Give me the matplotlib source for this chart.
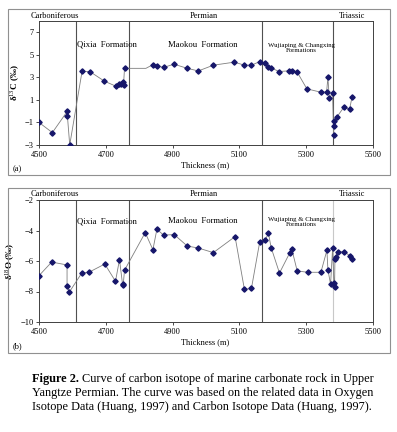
import matplotlib
matplotlib.use("Agg")
import matplotlib.pyplot as plt
from matplotlib.patches import Rectangle

plt.rcParams['font.family'] = ['Liberation Serif', 'DejaVu Serif']
plt.rcParams['mathtext.fontset'] = 'custom'
plt.rcParams['mathtext.rm'] = 'Liberation Serif'

# carbon isotope (a)
c_thick = [4500, 4540, 4585, 4585, 4592, 4629, 4653, 4696, 4730, 4741, 4746, 4750, 4753, 4756,
           4820, 4842, 4853, 4873, 4904, 4944, 4977, 5022, 5085, 5115, 5136, 5161, 5176, 5185,
           5194, 5219, 5249, 5256, 5272, 5302, 5343, 5361, 5365, 5369, 5379, 5382, 5383, 5384,
           5391, 5413, 5430, 5437]
c_d13 = [-1.0, -1.9, 0.0, -0.4, -3.0, 3.55, 3.5, 2.66, 2.22, 2.4, 2.45, 2.55, 2.3, 3.8,
         3.8, 4.14, 4.02, 3.88, 4.17, 3.8, 3.57, 4.08, 4.35, 4.08, 4.08, 4.4, 4.27, 3.9,
         3.85, 3.52, 3.58, 3.6, 3.52, 1.98, 1.69, 1.69, 2.99, 1.13, 1.6, -2.14, -1.32, -0.88,
         -0.55, 0.36, 0.19, 1.22]
c_marked = [True] * len(c_thick)
c_marked[14] = False

# oxygen isotope (b)
o_thick = [4500, 4538, 4584, 4584, 4591, 4628, 4651, 4697, 4729, 4741, 4750, 4752, 4756,
           4818, 4841, 4853, 4873, 4905, 4944, 4977, 5022, 5087, 5115, 5136, 5161, 5177, 5187,
           5195, 5220, 5250, 5257, 5273, 5304, 5344, 5362, 5365, 5373, 5379, 5383, 5385, 5386,
           5388, 5394, 5414, 5430, 5437]
o_d18 = [-6.96, -6.07, -6.26, -7.62, -8.03, -6.79, -6.72, -6.2, -7.33, -5.91, -7.5, -7.6, -6.61,
         -4.14, -5.26, -3.92, -4.3, -4.27, -5.02, -5.15, -5.45, -4.4, -7.86, -7.8, -4.73, -4.62, -4.19,
         -5.12, -6.79, -5.5, -5.23, -6.65, -6.74, -6.74, -5.3, -6.57, -7.53, -5.17, -7.42, -7.68, -5.87,
         -5.74, -5.41, -5.39, -5.65, -5.87]

boundaries = [4611, 4769, 5168, 5380]
periods = ['Carboniferous', 'Permian', 'Triassic']
period_x = [55, 204, 352]
formations = ['Qixia  Formation', 'Maokou  Formation']
form_x = [4615, 4886]
wc_label = 'Wujiaping & Changxing\nFormations'

W, H = 397, 432
fig = plt.figure(figsize=(W / 100, H / 100), dpi=100)


def fx(x):
    return x / W


def fy(y):
    return 1 - y / H


line_col = '#7f7f7f'
mark_col = '#16166a'


def panel(top, bottom, xs, ys, ylim, yticks, ylabel, tag, box_top, box_bot, last_col,
          marked=None, form_y=0, wc_y=0):
    ax = fig.add_axes([fx(39), fy(bottom), fx(373) - fx(39), (bottom - top) / H])
    ax.plot(xs, ys, color=line_col, lw=0.6, zorder=3)
    if marked is None:
        marked = [True] * len(xs)
    mx = [x for x, m in zip(xs, marked) if m]
    my = [y for y, m in zip(ys, marked) if m]
    ax.plot(mx, my, ls='none', marker='D', ms=2.7, color=mark_col, zorder=4)
    for i, b in enumerate(boundaries):
        col = last_col if i == 3 else '#505050'
        ax.axvline(b, color=col, lw=0.8, zorder=2)
    ax.set_xlim(4500, 5500)
    ax.set_ylim(*ylim)
    ax.set_xticks(range(4500, 5501, 200))
    ax.set_yticks(yticks)
    ax.tick_params(labelsize=6, length=2, width=0.5, pad=2)
    for s in ax.spines.values():
        s.set_linewidth(0.7)
        s.set_color('#404040')
    for name, x in zip(formations, form_x):
        ax.text(x, form_y, name, fontsize=6.2, ha='left', va='center')
    ax.text(5285, wc_y, wc_label, fontsize=4.9, ha='center', va='center',
            linespacing=1.05, multialignment='center')
    for name, x in zip(periods, period_x):
        fig.text(fx(x), fy(top - 5.5), name, fontsize=6, ha='center', va='center')
    ax.set_ylabel(ylabel, fontsize=6.5, fontweight='bold', labelpad=2)
    fig.text(fx(205), fy(bottom + 20), 'Thickness (m)', fontsize=6, ha='center', va='center')
    fig.text(fx(17), fy(bottom + 24), tag, fontsize=6, ha='center', va='center')
    fig.patches.append(Rectangle((fx(8), fy(box_bot)), fx(390) - fx(8), (box_bot - box_top) / H,
                                 transform=fig.transFigure, fill=False, ec='#909090', lw=0.8))
    return ax


ax1 = panel(21, 145, c_thick, c_d13, (-3, 8), [-3, -1, 1, 3, 5, 7],
            'δ$^{13}$C (‰)', '(a)', 9, 175, '#505050', c_marked, form_y=5.9, wc_y=5.6)

ax2 = panel(200, 322, o_thick, o_d18, (-10, -2), [-10, -8, -6, -4, -2],
            'δ$^{18}$O (‰)', '(b)', 188, 353, '#c8c8c8', form_y=-3.4, wc_y=-3.45)

# caption
cap_fs = 8.8
bold = fig.text(fx(32), fy(373), 'Figure 2.', fontsize=cap_fs, fontweight='bold',
                ha='left', va='top')
fig.canvas.draw()
bb = bold.get_window_extent(renderer=fig.canvas.get_renderer())
fig.text(bb.x1 / W + fx(3), fy(373),
         'Curve of carbon isotope of marine carbonate rock in Upper',
         fontsize=cap_fs, ha='left', va='top')
fig.text(fx(32), fy(387),
         'Yangtze Permian. The curve was based on the related data in Oxygen\n'
         'Isotope Data (Huang, 1997) and Carbon Isotope Data (Huang, 1997).',
         fontsize=cap_fs, ha='left', va='top', linespacing=1.2)

fig.savefig('out.png', dpi=100)
